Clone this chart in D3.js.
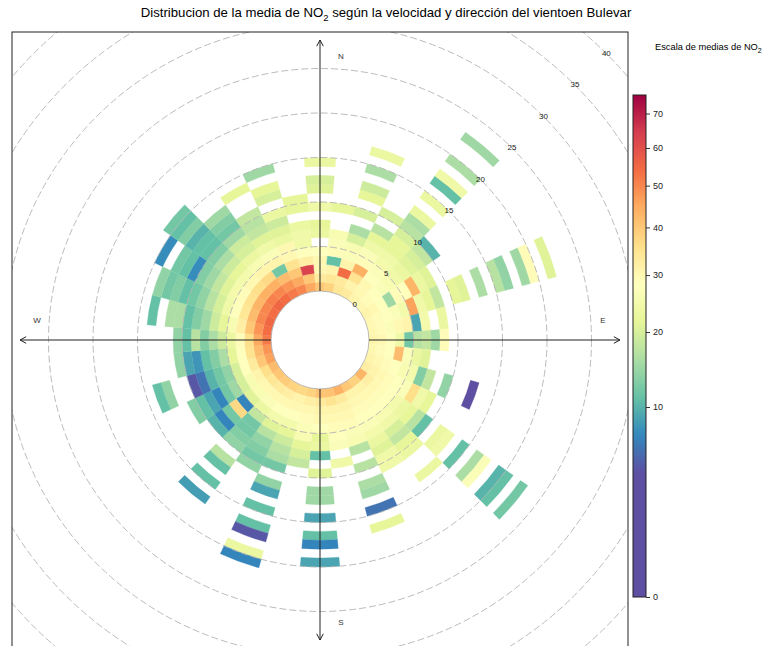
<!DOCTYPE html>
<html>
<head>
<meta charset="utf-8">
<script src="https://cdn.jsdelivr.net/npm/d3@7"></script>
<style>
  body { margin: 0; background: #fff; }
  text { font-family: "Liberation Sans", Arial, sans-serif; }
</style>
</head>
<body>
<svg id="chart" width="764" height="646"></svg>
<script>
// wind direction sectors (deg, centre of each 10 deg bin)
const directions = d3.range(0, 360, 10);
// mean NO2 per direction (rows) and wind-speed bin of 1 m/s (columns); null = no data
const cellMeans = [
  [40, 33, 30, 30, 28, null, 23, 22, null, 24, null, 21, 20, null, 23],
  [38, 34, 31, 11, 29, 27, 26, null, null, 22],
  [34, 33, 54, 31, 27, 26, 20, 16, null, 20, null, 22, 19, null, 16, null, 23],
  [33, 31, 35, 44, 29, 27, 24, 22, 17, null, 20],
  [31, 30, 30, 28, 27, 25, 24, 22, 22, 20, 17, 16, 23, null, 23, null, 11, 24, null, 16, null, null, 15],
  [30, 29, 28, 27, 26, 24, 23, 21, 20, 18, 10],
  [31, 30, 28, 15, 29, 28, 43, 23, 21],
  [30, 29, 28, 27, 25, 46, 24, 22, 18, null, 22, 21, null, 16, null, 17, 14, null, 15, 29, null, 21],
  [30, 29, 27, 30, 31, 9, 25, null, 23],
  [31, 30, 28, 24, 12, 17, 18, 15, 29],
  [30, 29, 28, 42, 27, 23, 21],
  [31, 30, 29, 28, 26, 25, 13, 18, null, 14, null, null, 3],
  [32, 31, 30, 29, 28, 27, 36, 24, 22],
  [43, 32, 30, 29, 28, 25, 23, 22, 17, 11, null, 23, 24, null, 11, null, 16, 27, null, 10, 11, null, 12],
  [38, 31, 30, 29, 28, 26, 24, 20, 18, 22, 23, null, null, 23],
  [40, 31, 30, 29, 28, 27, 25, 23, 21, 24, 24],
  [44, 33, 31, 30, 29, 27, 26, 17, null, 17, null, 16, 15, null, 6, null, 22],
  [41, 35, 31, 30, 29, 28, 27, null, 24],
  [41, 33, 31, 30, 28, 22, 23, 11, null, 21, null, 15, 15, null, 9, null, 11, 7, null, 9],
  [38, 32, 30, 29, 27, 26, 22, 20, 18],
  [37, 31, 30, 28, 25, 22, 19, 17, 16, 12, null, 14, 9, null, 11, null, 11, 4.5, null, 23, 7],
  [38, 32, 30, 28, 25, 21, 17, 14, 13, 12, 14],
  [39, 33, 30, 27, 23, 18, 12, 12, 13, 14, null, 17, 11, null, 11, null, 8.5],
  [40, 34, 30, 26, 21, 7, 37, 12, 7, 10],
  [42, 36, 31, 26, 20, 15, 12, 7, 9, 11, 13],
  [46, 40, 33, 28, 20, 14, 12, 10, 6, 4.5, null, null, 14, 11],
  [48, 42, 35, 28, 22, 16, 13, 11, 8, 9, 14],
  [52, 45, 36, 29, 23, 19, 16, 13, 17, 11, 14],
  [54, 48, 40, 32, 26, 22, 19, 15, 13, 11, 16, 16, null, 11],
  [55, 50, 42, 34, 28, 24, 20, 17, 14, 12, 11, 13, 12, 14],
  [54, 50, 43, 35, 29, 25, 21, 18, 15, 13, 7.5, 11, 12, null, 7.5],
  [55, 51, 44, 36, 30, 25, 22, 19, 16, 13, 11, 11, 10, 13, 11, 12],
  [54, 50, 44, 37, 31, 26, 23, 20, 19, 15, 12, 13, 15],
  [52, 48, 42, 12, 31, 27, 24, 21, 18, 17, 18, null, null, 22],
  [50, 45, 40, 35, 30, 30, 23, 21, 19, 23, null, 20, 22, null, 15],
  [45, 40, 63, 32, 28, 24, 24, 23, null, 22, 22]
];
const speedTicks = [0, 5, 10, 15, 20, 25, 30, 35, 40];
const keyTicks = [0, 10, 20, 30, 40, 50, 60, 70];
const keyMax = 75.7;
const colourStops = [4.1, 7.2, 11.1, 15.9, 21.6, 28.3, 35.9, 44.5, 53.8, 64.3, 75.7];
const colourRange = ['#5e4fa2', '#3288bd', '#66c2a5', '#abdda4', '#e6f598', '#ffffbf',
  '#fee08b', '#fdae61', '#f46d43', '#d53e4f', '#9e0142'];
const compass = [
  { label: 'N', angle: 0 }, { label: 'E', angle: 90 },
  { label: 'S', angle: 180 }, { label: 'W', angle: 270 }
];

const svg = d3.select('#chart');
const cx = 320, cy = 340;
const panel = { x: 12, y: 32, w: 616, h: 616 };
const rad = Math.PI / 180;

const r = d3.scaleLinear().domain([0, 40]).range([49, 405]);
const keyPow = d3.scalePow().exponent(0.48).domain([0, keyMax]).range([0, 1]);
const colour = d3.scaleLinear()
  .domain(colourStops.map(keyPow))
  .range(colourRange)
  .interpolate(d3.interpolateRgb)
  .clamp(true);
const fill = (v) => colour(keyPow(v));

// title
const title = svg.append('text')
  .attr('x', 386).attr('y', 17)
  .attr('text-anchor', 'middle')
  .attr('font-size', 13.2).attr('fill', '#000');
title.append('tspan').text('Distribucion de la media de NO');
title.append('tspan').attr('dy', 4).attr('font-size', 9.5).text('2');
title.append('tspan').attr('dy', -4).text(' según la velocidad y dirección del vientoen Bulevar');

// panel
svg.append('defs').append('clipPath').attr('id', 'clip')
  .append('rect').attr('x', panel.x).attr('y', panel.y).attr('width', panel.w).attr('height', panel.h);

const plot = svg.append('g').attr('clip-path', 'url(#clip)');
const g = plot.append('g').attr('transform', `translate(${cx},${cy})`);

// cells
const cells = [];
cellMeans.forEach((row, i) => {
  row.forEach((v, ws) => {
    if (v === null) return;
    cells.push({ dir: directions[i], ws: ws, value: v });
  });
});

const arc = d3.arc()
  .innerRadius((d) => r(d.ws))
  .outerRadius((d) => r(d.ws + 1))
  .startAngle((d) => (d.dir - 5) * rad)
  .endAngle((d) => (d.dir + 5) * rad);

g.selectAll('path.cell')
  .data(cells)
  .join('path')
  .attr('class', 'cell')
  .attr('d', arc)
  .attr('fill', (d) => fill(d.value))
  .attr('stroke', (d) => fill(d.value))
  .attr('stroke-width', 0.3);

// grid circles
g.selectAll('circle.grid')
  .data(speedTicks)
  .join('circle')
  .attr('class', 'grid')
  .attr('r', (d) => r(d))
  .attr('fill', 'none')
  .attr('stroke', '#b3b3b3')
  .attr('stroke-width', 0.9)
  .attr('stroke-dasharray', (d) => (d === 0 ? null : '7,3'));

g.selectAll('text.ring')
  .data(speedTicks)
  .join('text')
  .attr('class', 'ring')
  .attr('x', (d) => r(d) * Math.sin(45 * rad))
  .attr('y', (d) => -r(d) * Math.cos(45 * rad))
  .attr('text-anchor', 'middle')
  .attr('dominant-baseline', 'middle')
  .attr('font-size', 8)
  .attr('fill', '#222')
  .text((d) => d);

// axes with arrow heads
const axisEnd = 300;
const head = 7;
compass.forEach((c) => {
  const a = c.angle * rad;
  const sx = Math.sin(a), sy = -Math.cos(a);
  const x1 = r(0) * sx, y1 = r(0) * sy;
  const x2 = axisEnd * sx, y2 = axisEnd * sy;
  g.append('line')
    .attr('x1', x1).attr('y1', y1).attr('x2', x2).attr('y2', y2)
    .attr('stroke', '#222').attr('stroke-width', 1);
  [-1, 1].forEach((s) => {
    const b = a + Math.PI + s * 28 * rad;
    g.append('line')
      .attr('x1', x2).attr('y1', y2)
      .attr('x2', x2 + head * Math.sin(b)).attr('y2', y2 - head * Math.cos(b))
      .attr('stroke', '#222').attr('stroke-width', 1);
  });
  // label sits beside the arrow (right of vertical axis, above horizontal one)
  const vertical = c.angle === 0 || c.angle === 180;
  const lx = 283 * sx + (vertical ? 21 : 0);
  const ly = 283 * sy - (vertical ? 0 : 19);
  g.append('text')
    .attr('x', lx).attr('y', ly)
    .attr('text-anchor', 'middle')
    .attr('dominant-baseline', 'middle')
    .attr('font-size', 8)
    .attr('fill', '#333')
    .text(c.label);
});

svg.append('rect')
  .attr('x', panel.x).attr('y', panel.y).attr('width', panel.w).attr('height', panel.h)
  .attr('fill', 'none').attr('stroke', '#222').attr('stroke-width', 1);

// colour key
const keyY = d3.scalePow().exponent(0.48).domain([0, keyMax]).range([597, 95]);
const keyX = 633, keyW = 13;

const grad = svg.select('defs').append('linearGradient')
  .attr('id', 'keygrad').attr('x1', 0).attr('y1', 1).attr('x2', 0).attr('y2', 0);
d3.range(0, 1.0001, 0.01).forEach((t) => {
  grad.append('stop').attr('offset', t).attr('stop-color', colour(t));
});

svg.append('rect')
  .attr('x', keyX).attr('y', keyY(keyMax))
  .attr('width', keyW).attr('height', keyY(0) - keyY(keyMax))
  .attr('fill', 'url(#keygrad)')
  .attr('stroke', '#222').attr('stroke-width', 1);

const keyTickG = svg.append('g')
  .attr('transform', `translate(${keyX + keyW},0)`)
  .call(d3.axisRight(keyY).tickValues(keyTicks).tickSize(4).tickPadding(3))
  .call((ax) => ax.select('.domain').remove());
keyTickG.selectAll('.tick line').attr('stroke', '#333');
keyTickG.selectAll('.tick text')
  .attr('font-size', 9)
  .attr('fill', '#222')
  .attr('font-family', '"Liberation Sans", Arial, sans-serif');

const kt = svg.append('text')
  .attr('x', 655).attr('y', 50)
  .attr('font-size', 9.3).attr('fill', '#000');
kt.append('tspan').text('Escala de medias de NO');
kt.append('tspan').attr('dy', 3).attr('font-size', 7).text('2');
</script>
</body>
</html>
